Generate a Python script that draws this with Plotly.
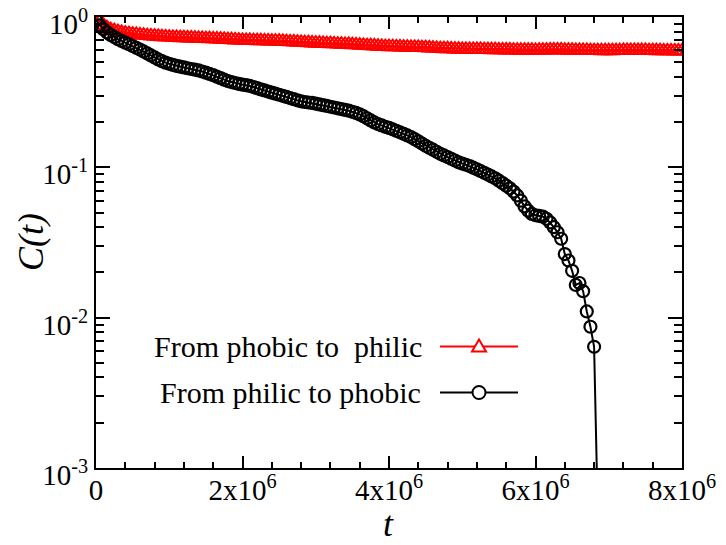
import plotly.graph_objects as go

# ---------------- data ----------------
STEP = 50000
red_values = [
    1.000, 0.930, 0.885, 0.850, 0.825, 0.810, 0.800, 0.790, 0.782, 0.776,
    0.770, 0.765, 0.760, 0.756, 0.752, 0.748, 0.745, 0.742, 0.739, 0.737,
    0.735, 0.733, 0.731, 0.729, 0.728, 0.726, 0.725, 0.723, 0.722, 0.720,
    0.719, 0.717, 0.716, 0.714, 0.712, 0.710, 0.708, 0.706, 0.704, 0.702,
    0.700, 0.699, 0.698, 0.697, 0.696, 0.695, 0.694, 0.693, 0.692, 0.691,
    0.690, 0.688, 0.686, 0.684, 0.682, 0.680, 0.678, 0.676, 0.674, 0.672,
    0.670, 0.669, 0.667, 0.666, 0.664, 0.663, 0.661, 0.660, 0.658, 0.657,
    0.655, 0.653, 0.650, 0.648, 0.646, 0.644, 0.642, 0.640, 0.638, 0.636,
    0.635, 0.634, 0.633, 0.632, 0.631, 0.630, 0.629, 0.628, 0.627, 0.626,
    0.625, 0.623, 0.621, 0.619, 0.617, 0.616, 0.615, 0.614, 0.612, 0.611,
    0.610, 0.610, 0.609, 0.609, 0.608, 0.608, 0.607, 0.607, 0.606, 0.606,
    0.605, 0.605, 0.604, 0.604, 0.603, 0.603, 0.602, 0.602, 0.601, 0.601,
    0.600, 0.601, 0.602, 0.603, 0.604, 0.605, 0.605, 0.604, 0.603, 0.602,
    0.601, 0.600, 0.600, 0.599, 0.599, 0.598, 0.598, 0.598, 0.597, 0.597,
    0.597, 0.597, 0.598, 0.598, 0.599, 0.599, 0.600, 0.600, 0.600, 0.599,
    0.599, 0.598, 0.598, 0.597, 0.597, 0.596, 0.596, 0.596, 0.595, 0.595,
    0.595,
]
black_values = [
    0.950, 0.880, 0.830, 0.790, 0.760, 0.735, 0.712, 0.693, 0.675, 0.658,
    0.641, 0.624, 0.607, 0.590, 0.572, 0.555, 0.538, 0.522, 0.508, 0.497,
    0.488, 0.480, 0.473, 0.467, 0.462, 0.456, 0.451, 0.446, 0.441, 0.434,
    0.426, 0.418, 0.410, 0.401, 0.392, 0.383, 0.375, 0.369, 0.364, 0.359,
    0.355, 0.352, 0.348, 0.342, 0.336, 0.330, 0.325, 0.319, 0.314, 0.309,
    0.304, 0.299, 0.294, 0.289, 0.284, 0.279, 0.275, 0.272, 0.270, 0.268,
    0.265, 0.262, 0.259, 0.256, 0.253, 0.250, 0.247, 0.244, 0.241, 0.238,
    0.234, 0.230, 0.225, 0.219, 0.212, 0.205, 0.199, 0.194, 0.190, 0.186,
    0.183, 0.179, 0.175, 0.171, 0.167, 0.163, 0.159, 0.154, 0.149, 0.144,
    0.139, 0.135, 0.131, 0.127, 0.123, 0.120, 0.117, 0.114, 0.111, 0.108,
    0.106, 0.104, 0.102, 0.0995, 0.0970, 0.0945, 0.0920, 0.0895, 0.0870, 0.0845,
    0.0815, 0.0785, 0.0755, 0.0725, 0.0690, 0.0650, 0.0600, 0.0550, 0.0515, 0.0490,
    0.0480, 0.0475, 0.0470, 0.0455, 0.0430, 0.0400, 0.0370, 0.0335, 0.0265, 0.0240,
    0.0205, 0.0165, 0.0170, 0.0150, 0.0110, 0.0087, 0.0064, 0.0005,
]
red_t = [i * STEP for i in range(len(red_values))]
black_t = [i * STEP for i in range(len(black_values))]

red_name = "From phobic to \u00a0philic"
black_name = "From philic to phobic"

x_tickvals = [0, 2e6, 4e6, 6e6, 8e6]
x_ticktext = ["0", "2x10<sup>6</sup>", "4x10<sup>6</sup>", "6x10<sup>6</sup>", "8x10<sup>6</sup>"]
y_tickvals = [1e-3, 1e-2, 1e-1, 1]
y_ticktext = ["10<sup>-3</sup>", "10<sup>-2</sup>", "10<sup>-1</sup>", "10<sup>0</sup>"]
y_minor = [m * 10 ** e for e in (-3, -2, -1) for m in range(2, 10)]

FONT = "Liberation Serif, Times New Roman, serif"
W, H = 726, 545
L, R, T, B = 96, 44, 17, 77


def px(xp):
    return (xp - L) / (W - L - R)


def py(yp):
    return (H - B - yp) / (H - T - B)


fig = go.Figure()
fig.add_trace(go.Scatter(
    x=red_t, y=red_values, mode="lines+markers", name=red_name,
    line=dict(color="#ff0000", width=2),
    marker=dict(symbol="triangle-up-open", size=14, color="#ff0000",
                line=dict(color="#ff0000", width=2)),
    showlegend=False,
))
fig.add_trace(go.Scatter(
    x=black_t, y=black_values, mode="lines+markers", name=black_name,
    line=dict(color="#000000", width=2),
    marker=dict(symbol="circle-open", size=12, color="#000000",
                line=dict(color="#000000", width=2.2)),
    showlegend=False,
))

axis_common = dict(
    showline=True, linecolor="black", linewidth=2, mirror="ticks",
    ticks="inside", tickcolor="black", tickwidth=1.5,
    showgrid=False, zeroline=False, ticklabeloverflow="allow",
    automargin=False,
    tickfont=dict(family=FONT, size=29, color="black"),
)

fig.update_xaxes(
    range=[0, 8e6], tickmode="array", tickvals=x_tickvals, ticktext=x_ticktext,
    ticklen=12, ticklabelstandoff=-5,
    minor=dict(tickmode="linear", tick0=0, dtick=400000, ticks="inside",
               ticklen=6, tickcolor="black", tickwidth=1.5, showgrid=False),
    **axis_common,
)
fig.update_yaxes(
    type="log", range=[-3, 0], tickmode="array", tickvals=y_tickvals, ticktext=y_ticktext,
    ticklen=14, ticklabelshift=7,
    minor=dict(tickmode="array", tickvals=y_minor, ticks="inside",
               ticklen=8, tickcolor="black", tickwidth=1.5, showgrid=False),
    **axis_common,
)

# legend drawn as layout decoration (symbol to the right of text)
shapes = []
annotations = []
for name, color, ycen, xtext, kind in [
    (red_name, "#ff0000", 346.6, 152, "tri"),
    (black_name, "#000000", 392.5, 158, "circ"),
]:
    shapes.append(dict(type="line", xref="paper", yref="paper",
                       x0=px(440), x1=px(518), y0=py(ycen), y1=py(ycen),
                       line=dict(color=color, width=2)))
    if kind == "tri":
        shapes.append(dict(type="path", xref="paper", yref="paper",
                           xsizemode="pixel", ysizemode="pixel",
                           xanchor=px(479), yanchor=py(ycen),
                           path="M -7,-5 L 7,-5 L 0,7 Z",
                           fillcolor="white", line=dict(color=color, width=2)))
    else:
        shapes.append(dict(type="circle", xref="paper", yref="paper",
                           xsizemode="pixel", ysizemode="pixel",
                           xanchor=px(479), yanchor=py(ycen),
                           x0=-6.5, x1=6.5, y0=-6.5, y1=6.5,
                           fillcolor="white", line=dict(color=color, width=2)))
    annotations.append(dict(text=name, xref="paper", yref="paper",
                            x=px(xtext), y=py(ycen), xanchor="left", yanchor="middle",
                            showarrow=False,
                            font=dict(family=FONT, size=30, color="black")))

annotations.append(dict(text="<i>C(t)</i>", xref="paper", yref="paper",
                        x=px(31), y=py(242), xanchor="center", yanchor="middle",
                        textangle=-90, showarrow=False,
                        font=dict(family=FONT, size=36, color="black")))
annotations.append(dict(text="<i>t</i>", xref="paper", yref="paper",
                        x=px(388), y=py(524), xanchor="center", yanchor="middle",
                        showarrow=False,
                        font=dict(family=FONT, size=36, color="black")))

fig.update_layout(
    width=W, height=H,
    margin=dict(l=L, r=R, t=T, b=B, autoexpand=False),
    paper_bgcolor="white", plot_bgcolor="white",
    shapes=shapes, annotations=annotations,
    showlegend=False,
)

fig.write_html("out.html",
               config={"displayModeBar": False},
               post_script="document.body.style.margin='0';document.body.style.overflow='hidden';")
